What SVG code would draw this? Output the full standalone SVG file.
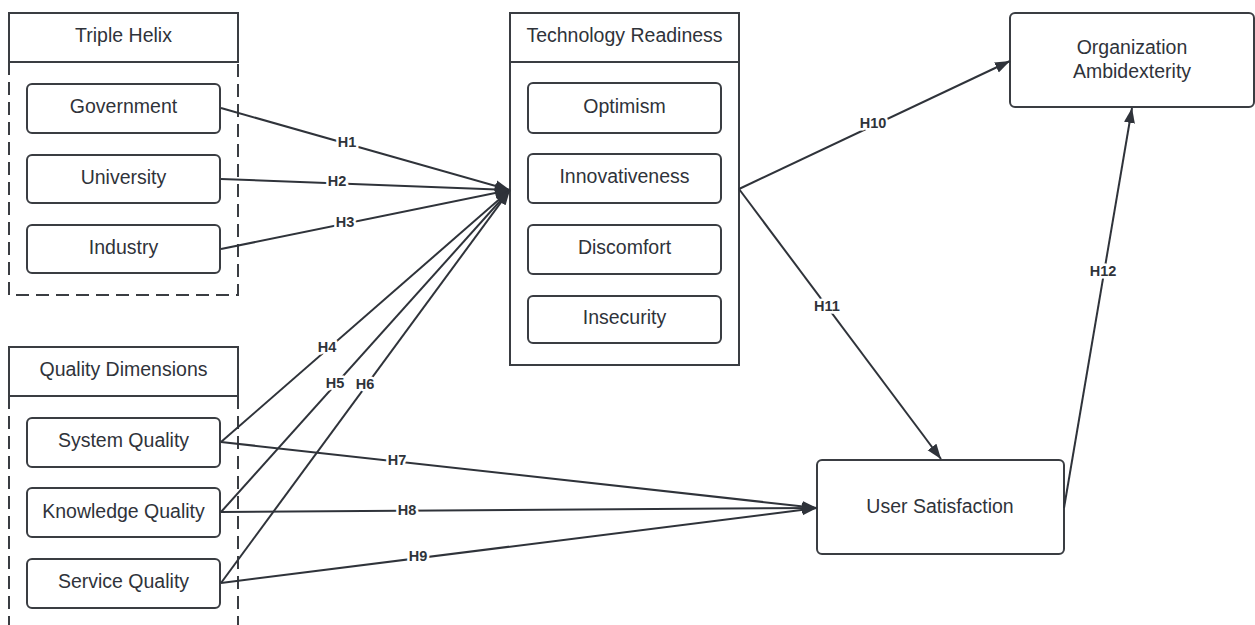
<svg xmlns="http://www.w3.org/2000/svg" width="1255" height="625" viewBox="0 0 1255 625">
<defs>
<marker id="arr" markerUnits="userSpaceOnUse" markerWidth="16" markerHeight="12" refX="15" refY="6" orient="auto">
<path d="M0,0.5 L15,6 L0,11.5 z" fill="#2f333a"/>
</marker>
<style>
.box{fill:#fff;stroke:#3a3d42;stroke-width:2}
.frame{fill:none;stroke:#3a3d42;stroke-width:2}
.dash{fill:none;stroke:#3a3d42;stroke-width:2;stroke-dasharray:13 7}
.t{font-family:"Liberation Sans",Arial,sans-serif;font-size:19.5px;fill:#2f333a;text-anchor:middle}
.c{fill:none;stroke:#2f333a;stroke-width:2;marker-end:url(#arr)}
.l{font-family:"Liberation Sans",Arial,sans-serif;font-size:14.5px;font-weight:bold;fill:#2f333a;text-anchor:middle;stroke:#fff;stroke-width:5;paint-order:stroke;stroke-linejoin:round}
</style>
</defs>
<rect width="1255" height="625" fill="#fff"/>

<g id="triple-helix">
<rect class="frame" x="9" y="13" width="229" height="49"/>
<path class="dash" d="M9,62 V295 H238 V62"/>
<text class="t" x="123.5" y="42">Triple Helix</text>
</g>
<g id="government"><rect class="box" x="27" y="84" width="193" height="49" rx="5"/><text class="t" x="123.5" y="113">Government</text></g>
<g id="university"><rect class="box" x="27" y="155" width="193" height="48" rx="5"/><text class="t" x="123.5" y="183.5">University</text></g>
<g id="industry"><rect class="box" x="27" y="225" width="193" height="48" rx="5"/><text class="t" x="123.5" y="254">Industry</text></g>

<g id="quality-dimensions">
<rect class="frame" x="9" y="347" width="229" height="49"/>
<path class="dash" d="M9,396 V630 M238,396 V630"/>
<text class="t" x="123.5" y="376">Quality Dimensions</text>
</g>
<g id="system-quality"><rect class="box" x="27" y="418" width="193" height="49" rx="5"/><text class="t" x="123.5" y="446.5">System Quality</text></g>
<g id="knowledge-quality"><rect class="box" x="27" y="488" width="193" height="49" rx="5"/><text class="t" x="123.5" y="517.5">Knowledge Quality</text></g>
<g id="service-quality"><rect class="box" x="27" y="559" width="193" height="49" rx="5"/><text class="t" x="123.5" y="587.5">Service Quality</text></g>

<g id="technology-readiness">
<rect class="frame" x="510" y="13" width="229" height="352"/>
<line class="frame" x1="510" y1="62" x2="739" y2="62"/>
<text class="t" x="624.5" y="42">Technology Readiness</text>
</g>
<g id="optimism"><rect class="box" x="528" y="83" width="193" height="50" rx="5"/><text class="t" x="624.5" y="112.5">Optimism</text></g>
<g id="innovativeness"><rect class="box" x="528" y="154" width="193" height="49" rx="5"/><text class="t" x="624.5" y="183">Innovativeness</text></g>
<g id="discomfort"><rect class="box" x="528" y="225" width="193" height="49" rx="5"/><text class="t" x="624.5" y="254">Discomfort</text></g>
<g id="insecurity"><rect class="box" x="528" y="296" width="193" height="47" rx="5"/><text class="t" x="624.5" y="324">Insecurity</text></g>

<g id="organization-ambidexterity">
<rect class="box" x="1010" y="13" width="244" height="94" rx="5"/>
<text class="t" x="1132" y="54">Organization</text>
<text class="t" x="1132" y="78">Ambidexterity</text>
</g>
<g id="user-satisfaction">
<rect class="box" x="817" y="460" width="247" height="94" rx="5"/>
<text class="t" x="940" y="513">User Satisfaction</text>
</g>

<g id="connectors">
<line class="c" x1="221" y1="108" x2="510" y2="190"/>
<line class="c" x1="221" y1="179" x2="510" y2="190"/>
<line class="c" x1="221" y1="249" x2="510" y2="190"/>
<line class="c" x1="221" y1="442" x2="510" y2="190"/>
<line class="c" x1="221" y1="512" x2="510" y2="190"/>
<line class="c" x1="221" y1="583" x2="510" y2="190"/>
<line class="c" x1="221" y1="442" x2="817" y2="508"/>
<line class="c" x1="221" y1="512" x2="817" y2="508"/>
<line class="c" x1="221" y1="583" x2="817" y2="508"/>
<line class="c" x1="739" y1="189" x2="1010" y2="61"/>
<line class="c" x1="739" y1="189" x2="941" y2="459"/>
<line class="c" x1="1064" y1="508" x2="1132" y2="108"/>
<text class="l" x="347" y="147">H1</text>
<text class="l" x="337" y="186">H2</text>
<text class="l" x="345" y="227">H3</text>
<text class="l" x="327" y="352">H4</text>
<text class="l" x="335" y="388">H5</text>
<text class="l" x="365" y="389">H6</text>
<text class="l" x="397" y="465">H7</text>
<text class="l" x="407" y="515">H8</text>
<text class="l" x="418" y="561">H9</text>
<text class="l" x="873" y="128">H10</text>
<text class="l" x="827" y="311">H11</text>
<text class="l" x="1103" y="276">H12</text>
</g>
</svg>
